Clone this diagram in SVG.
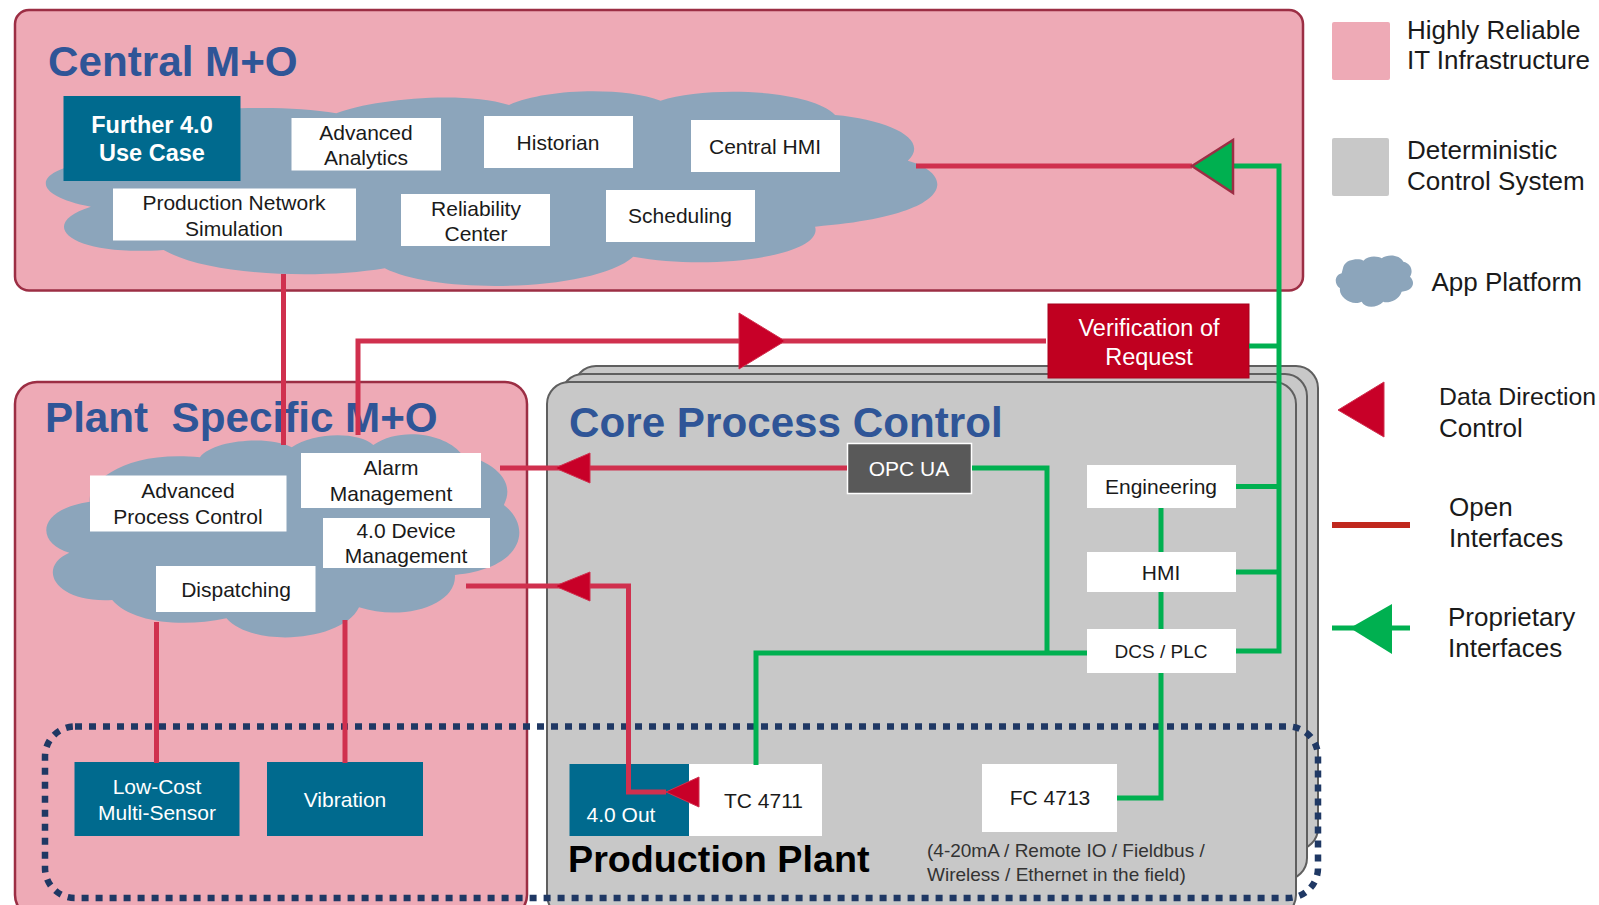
<svg xmlns="http://www.w3.org/2000/svg" width="1599" height="905" viewBox="0 0 1599 905">
<style>
text{font-family:"Liberation Sans",Arial,sans-serif;text-anchor:middle;fill:#1a1a1a;font-size:21px}
.zone{fill:#eeaab6;stroke:#9c2e44;stroke-width:2.5}
.stack{fill:#c8c8c8;stroke:#5f5f5f;stroke-width:2}
.cloud{fill:#8ca5bb}
.box{fill:#fff}
.teal{fill:#006a8e}
.title{font-weight:bold;font-size:42.200px;fill:#2f5597;text-anchor:start}
.w{fill:#fff}
.leg{font-size:26px;text-anchor:start}
.red{fill:none;stroke:#d0304e;stroke-width:5}
.green{fill:none;stroke:#00b050;stroke-width:5}
.ah{fill:#c80028;stroke:#d0304e;stroke-width:1}
.dots{fill:none;stroke:#1f3864;stroke-width:6.500;stroke-dasharray:7 7}
</style>

<g id="central-zone">
<rect class="zone" x="15" y="10" width="1288" height="280.500" rx="14"/>
<text class="title" x="48" y="76">Central M+O</text>
<path class="cloud" transform="scale(0.606 0.3333)" d="M150 620C50 585 55 515 140 490C150 400 300 325 397 325C450 322 510 325 555 340C610 300 760 270 840 315C900 265 1030 260 1090 302C1170 255 1340 270 1378 345C1470 360 1535 420 1498 482C1575 520 1585 645 1345 680C1360 765 1180 815 1045 770C980 875 720 885 635 805C520 840 340 825 270 750C110 770 60 670 150 620Z"/>
</g>
<g id="plant-zone">
<rect class="zone" x="15" y="382" width="512" height="535" rx="22"/>
<text class="title" x="45" y="432" xml:space="preserve">Plant  Specific M+O</text>
<path class="cloud" transform="translate(0 370) scale(0.408 0.3333)" d="M170 548C90 520 85 420 220 395C215 340 300 240 490 262C520 210 660 195 715 232C770 185 880 185 915 225C980 170 1090 190 1130 250C1190 270 1270 320 1235 405C1305 470 1285 595 1115 615C1120 705 990 755 880 712C840 815 620 835 555 745C440 775 320 755 275 690C130 700 90 590 170 548Z"/>
</g>
<g id="core-zone">
<rect class="stack" x="574" y="366" width="744" height="484" rx="22"/>
<rect class="stack" x="561" y="374" width="746" height="506" rx="22"/>
<rect class="stack" x="547" y="382" width="749" height="535" rx="22"/>
<text class="title" x="569" y="437">Core Process Control</text>
</g>

<g id="further"><rect class="teal" x="63.500" y="96" width="177" height="85"/><text class="w" x="152" y="132.500" font-weight="bold" style="font-size:23.500px">Further 4.0</text><text class="w" x="152" y="160.500" font-weight="bold" style="font-size:23.500px">Use Case</text></g>
<g id="analytics"><rect class="box" x="291.500" y="118" width="149.500" height="52.500"/><text x="366" y="139.500">Advanced</text><text x="366" y="165">Analytics</text></g>
<g id="historian"><rect class="box" x="484" y="116" width="149" height="52"/><text x="558" y="150">Historian</text></g>
<g id="central-hmi"><rect class="box" x="691" y="120" width="149" height="52"/><text x="765" y="154">Central HMI</text></g>
<g id="simulation"><rect class="box" x="113" y="188.500" width="243" height="52"/><text x="234" y="210">Production Network</text><text x="234" y="236">Simulation</text></g>
<g id="reliability"><rect class="box" x="401" y="194" width="149" height="52"/><text x="476" y="216">Reliability</text><text x="476" y="241">Center</text></g>
<g id="scheduling"><rect class="box" x="606" y="190" width="149" height="52"/><text x="680" y="223">Scheduling</text></g>

<g id="apc"><rect class="box" x="90" y="475.500" width="196.500" height="56"/><text x="188" y="498">Advanced</text><text x="188" y="524">Process Control</text></g>
<g id="alarm"><rect class="box" x="301" y="453" width="180" height="55"/><text x="391" y="475">Alarm</text><text x="391" y="500.500">Management</text></g>
<g id="device"><rect class="box" x="323" y="518" width="167" height="50"/><text x="406" y="537.500">4.0 Device</text><text x="406" y="563">Management</text></g>
<g id="dispatching"><rect class="box" x="156" y="566" width="159.500" height="46"/><text x="236" y="597">Dispatching</text></g>

<g id="verification"><rect x="1048" y="304" width="201" height="74" fill="#c00020" stroke="#a8001c"/><text class="w" x="1149" y="336" style="font-size:23.500px">Verification of</text><text class="w" x="1149" y="365" style="font-size:23.500px">Request</text></g>
<g id="opc"><rect x="847.500" y="443.500" width="124" height="50" fill="#595959" stroke="#fff" stroke-width="1.500"/><text class="w" x="909" y="476">OPC UA</text></g>
<g id="engineering"><rect class="box" x="1087" y="465" width="149" height="43"/><text x="1161" y="494">Engineering</text></g>
<g id="hmi"><rect class="box" x="1087" y="552" width="149" height="40"/><text x="1161" y="580">HMI</text></g>
<g id="dcs"><rect class="box" x="1087" y="629" width="149" height="44"/><text x="1161" y="658" style="font-size:19px">DCS / PLC</text></g>
<g id="fc4713"><rect class="box" x="982" y="764" width="135" height="68"/><text x="1050" y="805">FC 4713</text></g>
<g id="tc4711"><rect class="box" x="689" y="764" width="133" height="72"/><text x="763.500" y="808">TC 4711</text></g>
<g id="out"><rect class="teal" x="569.500" y="764" width="119.500" height="72"/><text class="w" x="621" y="822">4.0 Out</text></g>
<g id="sensor"><rect class="teal" x="74.500" y="762" width="165" height="74"/><text class="w" x="157" y="794">Low-Cost</text><text class="w" x="157" y="820">Multi-Sensor</text></g>
<g id="vibration"><rect class="teal" x="267" y="762" width="156" height="74"/><text class="w" x="345" y="806.500">Vibration</text></g>

<g id="plant-labels">
<text x="568" y="872" style="font-weight:bold;font-size:37.700px;fill:#000;text-anchor:start">Production Plant</text>
<text x="927" y="857" style="font-size:19px;fill:#333;text-anchor:start">(4-20mA / Remote IO / Fieldbus /</text>
<text x="927" y="881" style="font-size:19px;fill:#333;text-anchor:start">Wireless / Ethernet in the field)</text>
</g>

<rect id="production-boundary" class="dots" x="45" y="726.500" width="1273" height="171.500" rx="30"/>

<g id="connectors">
<path class="red" d="M916 166H1192"/>
<path class="red" d="M1046 341H358V435"/>
<path class="red" d="M283.500 274V445"/>
<path class="red" d="M500 468H847"/>
<path class="red" d="M466 586H628.500V792H666"/>
<path class="red" d="M156.500 622V763"/>
<path class="red" d="M345 620V763"/>
<path class="green" d="M1233 166H1279V651H1236"/>
<path class="green" d="M1249 346H1279"/>
<path class="green" d="M1236 486.500H1279"/>
<path class="green" d="M1236 572H1279"/>
<path class="green" d="M1161 508V552M1161 592V629"/>
<path class="green" d="M1161 673V798H1117"/>
<path class="green" d="M972 468H1047V653"/>
<path class="green" d="M1087 653H756V765"/>
<polygon points="1192,166 1233,140 1233,193" fill="#00b050" stroke="#9c2e44" stroke-width="2.500"/>
<polygon class="ah" points="739,313 785,341 739,369"/>
<polygon class="ah" points="555,468 590,453 590,483"/>
<polygon class="ah" points="555,586 590,572 590,601"/>
<polygon class="ah" points="666,792 699,777 699,807"/>
</g>

<g id="legend">
<rect x="1332" y="22" width="58" height="58" rx="2" fill="#eeaab6"/>
<text class="leg" x="1407" y="39">Highly Reliable</text><text class="leg" x="1407" y="69">IT Infrastructure</text>
<rect x="1332" y="138" width="57" height="58" rx="2" fill="#c8c8c8"/>
<text class="leg" x="1407" y="159">Deterministic</text><text class="leg" x="1407" y="190">Control System</text>
<path class="cloud" transform="translate(1300 0) scale(0.3333)" d="M130 800C140 775 180 775 190 782C205 765 235 768 245 775C265 760 300 765 310 785C335 790 340 815 330 830C350 850 335 875 305 875C295 905 260 910 250 905C230 925 195 925 185 905C155 920 115 890 120 865C100 850 105 825 125 820Z"/>
<text class="leg" x="1431.500" y="291">App Platform</text>
<polygon class="ah" points="1338,410 1384,382 1384,437"/>
<text class="leg" x="1439" y="405" style="font-size:24.800px">Data Direction</text><text class="leg" x="1439" y="437">Control</text>
<path d="M1332 525H1410" stroke="#c0281e" stroke-width="6" fill="none"/>
<text class="leg" x="1449" y="516">Open</text><text class="leg" x="1449" y="547">Interfaces</text>
<path class="green" d="M1332 628H1410"/>
<polygon points="1350,628 1392,604 1392,654" fill="#00b050"/>
<text class="leg" x="1448" y="626">Proprietary</text><text class="leg" x="1448" y="657">Interfaces</text>
</g>
</svg>
